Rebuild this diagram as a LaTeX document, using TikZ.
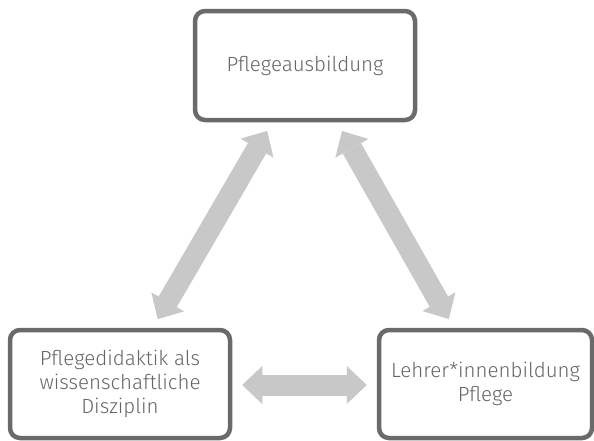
\documentclass[tikz,border=0pt]{standalone}
\usepackage{fontspec}
\setmainfont{Fira Sans Light}
\usetikzlibrary{arrows.meta}
\definecolor{boxline}{HTML}{6A6A6A}
\definecolor{txt}{HTML}{666666}
\definecolor{arr}{HTML}{C8C8C8}
\tikzset{
  boxnode/.style={draw=boxline, line width=4.5pt, rounded corners=10pt, fill=white,
    align=center, text=txt, font=\fontsize{20.5}{24}\selectfont, inner sep=0pt},
  bigarrow/.style={draw=arr, line width=21pt,
    {Triangle[length=20pt,width=38pt,line width=0pt]}-{Triangle[length=20pt,width=38pt,line width=0pt]},
    shorten <=10pt, shorten >=10pt}
}
\begin{document}
\begin{tikzpicture}[x=1pt,y=-1pt]
\useasboundingbox (0,0) rectangle (594,440);
\node[boxnode, minimum width=220pt, minimum height=109pt] (top) at (305,65.5) {Pflegeausbildung};
\node[boxnode, minimum width=220pt, minimum height=108pt] (left) at (120,384) {Pflegedidaktik als\\wissenschaftliche\\Disziplin};
\node[boxnode, minimum width=213pt, minimum height=108pt] (right) at (485.5,384) {Lehrer*innenbildung\\Pflege};
\draw[bigarrow] (left) -- (top);
\draw[bigarrow] (top) -- (right);
\draw[bigarrow] (left.east |- 0,385) -- (right.west |- 0,385);
\end{tikzpicture}
\end{document}
